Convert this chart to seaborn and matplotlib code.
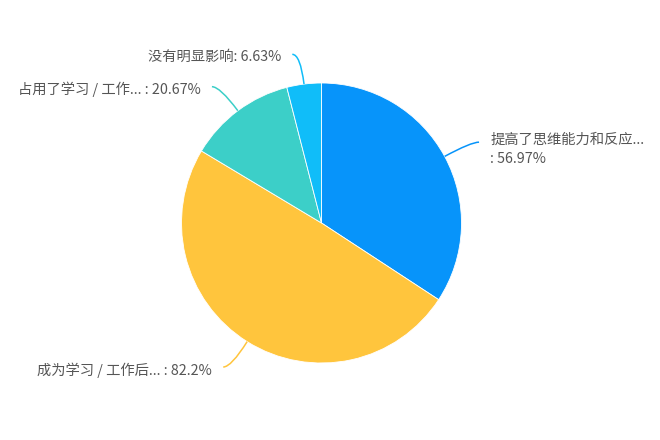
import numpy as np
import seaborn as sns
import matplotlib.pyplot as plt
from matplotlib.path import Path
from matplotlib.patches import PathPatch

sns.set_theme(style="white")
plt.rcParams['font.family'] = ['Noto Sans CJK SC', 'DejaVu Sans']

# data
labels = ["提高了思维能力和反应...\n", "成为学习 / 工作后... ", "占用了学习 / 工作... ", "没有明显影响"]
values = [56.97, 82.2, 20.67, 6.63]
colors = ["#0794FA", "#FFC53D", "#3CCFC8", "#10BDF9"]

fig = plt.figure(figsize=(6.6, 4.4), dpi=100)
ax = fig.add_axes([0, 0, 1, 1])

cx, cy, r = 321.5, 217, 140
wedges, _ = ax.pie(values, colors=colors, startangle=90, counterclock=False,
                   center=(cx, cy), radius=r, frame=True,
                   wedgeprops=dict(linewidth=0.6, edgecolor="white"))
ax.set_xlim(0, 660)
ax.set_ylim(0, 440)
ax.set_aspect("equal")
ax.axis("off")

# leader lines and labels
for w, lab, val, col in zip(wedges, labels, values, colors):
    mid = np.deg2rad((w.theta1 + w.theta2) / 2)
    d = np.array([np.cos(mid), np.sin(mid)])
    p1 = np.array([cx, cy]) + r * d
    p2 = np.array([cx, cy]) + (r + 30) * d
    side = 1 if d[0] >= 0 else -1
    p3 = p2 + np.array([side * 8, 0])
    path = Path([p1, p2, p3], [Path.MOVETO, Path.CURVE3, Path.CURVE3])
    ax.add_patch(PathPatch(path, fill=False, edgecolor=col, lw=1.1))
    txt = f"{lab}: {val:g}%"
    if side > 0:
        ax.text(p3[0] + 11, p3[1] + 9, txt, ha="left", va="top",
                fontsize=10.3, color="#555555", linespacing=1.45)
    else:
        ax.text(p3[0] - 11, p3[1] - 3, txt, ha="right", va="center",
                fontsize=10.3, color="#555555")

fig.savefig("out.png", dpi=100, facecolor="white")
